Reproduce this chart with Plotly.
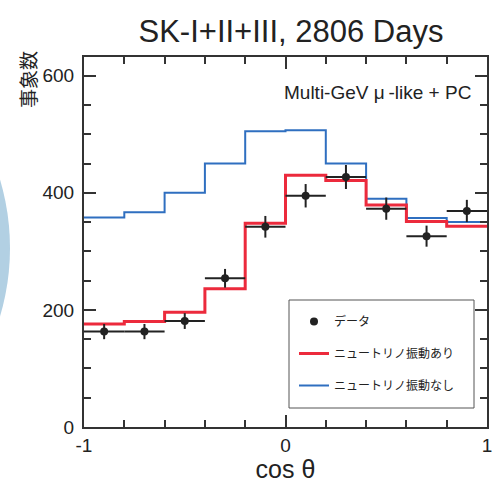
import plotly.graph_objects as go

# ---- data ----
bin_edges = [-1.0, -0.8, -0.6, -0.4, -0.2, 0.0, 0.2, 0.4, 0.6, 0.8, 1.0]
bin_centers = [-0.9, -0.7, -0.5, -0.3, -0.1, 0.1, 0.3, 0.5, 0.7, 0.9]
data_counts = [163, 163, 181, 254, 342, 395, 427, 373, 326, 369]
data_errors = [13, 13, 13.5, 16, 18.5, 20, 20.5, 19, 18, 19]
bin_half_width = [0.1] * 10
osc_counts = [176, 180, 196, 236, 348, 430, 421, 379, 351, 343]      # with oscillation
noosc_counts = [358, 367, 400, 450, 505, 507, 450, 390, 357, 350]    # without oscillation

title_text = "SK-I+II+III, 2806 Days"
sample_text = "Multi-GeV \u03bc\u2009-like + PC"
ylabel_text = "事象数"
xlabel_text = "cos \u03b8"
legend_data = "データ"
legend_osc = "ニュートリノ振動あり"
legend_noosc = "ニュートリノ振動なし"

FONT = "Liberation Sans, Arial, Helvetica, sans-serif"
JFONT = "Noto Sans CJK JP, sans-serif"
RED = "#ec2a3c"
BLUE = "#2f6fc0"
DARK = "#222222"

W, H = 493, 483
L, R, T, B = 84, 6, 57, 56
PW, PH = W - L - R, H - T - B


def px(xp):
    return (xp - L) / PW


def py(yp):
    return (H - B - yp) / PH


fig = go.Figure()

# step histograms
fig.add_trace(go.Scatter(
    x=bin_edges, y=noosc_counts + [noosc_counts[-1]],
    mode="lines", line=dict(shape="hv", color=BLUE, width=2),
    name=legend_noosc, legendgroup="c", legendrank=3,
))
fig.add_trace(go.Scatter(
    x=bin_edges, y=osc_counts + [osc_counts[-1]],
    mode="lines", line=dict(shape="hv", color=RED, width=3),
    name=legend_osc, legendgroup="b", legendrank=2,
))
fig.add_trace(go.Scatter(
    x=bin_centers, y=data_counts, mode="markers",
    marker=dict(color=DARK, size=8),
    error_y=dict(type="data", array=data_errors, color=DARK, thickness=2, width=0),
    error_x=dict(type="data", array=bin_half_width, color=DARK, thickness=2, width=0),
    name=legend_data, legendgroup="a", legendrank=1,
))

# decorative circle on the left edge
CR, CX, CY = 240, 10 - 240, 248
fig.add_shape(type="circle", xref="paper", yref="paper",
              x0=px(CX - CR), x1=px(CX + CR),
              y0=py(CY + CR), y1=py(CY - CR),
              fillcolor="#b2d0e3", line=dict(width=0), layer="below")

# legend frame
fig.add_shape(type="rect", xref="paper", yref="paper",
              x0=px(289), x1=px(474), y0=py(408), y1=py(300),
              line=dict(color="#555555", width=1), fillcolor="white", layer="above")

axis_common = dict(
    showline=True, linecolor="#333333", linewidth=2, mirror="ticks",
    ticks="inside", tickcolor="#333333", tickwidth=1.5, ticklen=12,
    showgrid=False, zeroline=False, automargin=False,
    tickfont=dict(family=FONT, size=19, color="#222222"),
)

fig.update_xaxes(
    range=[-1, 1], tickvals=[-1, 0, 1], ticktext=["-1", "0", "1"],
    minor=dict(dtick=0.2, ticks="inside", ticklen=7, tickcolor="#333333", tickwidth=1.5, showgrid=False),
    title=dict(text=xlabel_text, font=dict(family=FONT, size=25, color="#222222"), standoff=2),
    ticklabelstandoff=0, ticklabeloverflow="allow",
    **axis_common,
)
fig.update_yaxes(
    range=[0, 632], tickvals=[0, 200, 400, 600],
    minor=dict(dtick=50, ticks="inside", ticklen=7, tickcolor="#333333", tickwidth=1.5, showgrid=False),
    ticklabelstandoff=4,
    **axis_common,
)

fig.add_annotation(text=sample_text, xref="paper", yref="paper",
                   x=px(473), y=py(92), xanchor="right", yanchor="middle",
                   showarrow=False, font=dict(family=FONT, size=19, color="#222222"))
fig.add_annotation(text=ylabel_text, xref="paper", yref="paper",
                   x=px(27), y=py(80), xanchor="center", yanchor="middle",
                   textangle=-90, showarrow=False,
                   font=dict(family=JFONT, size=19, color="#222222"))

fig.update_layout(
    width=W, height=H,
    margin=dict(l=L, r=R, t=T, b=B, autoexpand=False),
    paper_bgcolor="white", plot_bgcolor="white",
    title=dict(text=title_text, x=(291 / W), xanchor="center", y=1 - 31 / H, yanchor="middle",
               font=dict(family=FONT, size=31, color="#222222")),
    legend=dict(x=px(294), y=py(307), xanchor="left", yanchor="top",
                borderwidth=0, bgcolor="rgba(0,0,0,0)",
                font=dict(family=JFONT, size=12, color="#222222"),
                traceorder="grouped", tracegroupgap=13, itemwidth=30),
    showlegend=True,
)

fig.write_html("out.html")
